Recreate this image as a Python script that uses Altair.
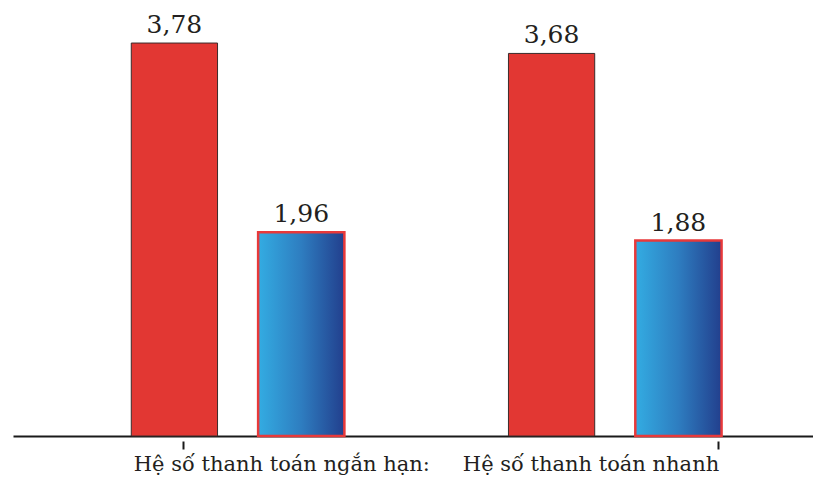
import altair as alt
import pandas as pd

# Chart data
categories = ["Hệ số thanh toán ngắn hạn:", "Hệ số thanh toán nhanh"]
series = ["S1", "S2"]
values_s1 = [3.78, 3.68]
values_s2 = [1.96, 1.88]

rows = []
for cat, v1, v2 in zip(categories, values_s1, values_s2):
    rows.append({"category": cat, "series": series[0], "value": v1})
    rows.append({"category": cat, "series": series[1], "value": v2})
df = pd.DataFrame(rows)

FONT = "DejaVu Serif"
TEXT_COLOR = "#231F20"

x_enc = alt.X(
    "category:N",
    sort=categories,
    scale=alt.Scale(paddingInner=0.435, paddingOuter=0.278, align=0.564),
    axis=alt.Axis(
        title=None,
        domain=True,
        domainColor="#1a1a1a",
        domainWidth=2,
        ticks=False,
        labelFont=FONT,
        labelFontSize=21,
        labelColor=TEXT_COLOR,
        labelBaseline="alphabetic",
        labelPadding=34,
        labelAngle=0,
        labelLimit=400,
        labelOffset={
            "condition": {"test": f"datum.value === '{categories[0]}'", "value": 44},
            "value": -24,
        },
    ),
)
xoff_enc = alt.XOffset(
    "series:N",
    sort=series,
    scale=alt.Scale(domain=series, paddingInner=0.32, paddingOuter=0),
)
y_enc = alt.Y(
    "value:Q",
    scale=alt.Scale(domain=[0, 4.194], nice=False, zero=True),
    axis=None,
)

base = alt.Chart(df).encode(x=x_enc, xOffset=xoff_enc, y=y_enc)

red_bars = base.transform_filter(alt.datum.series == series[0]).mark_bar(
    fill="#E23733", stroke="#3a2b2b", strokeWidth=1
)

blue_gradient = alt.Gradient(
    gradient="linear",
    stops=[
        alt.GradientStop(color="#33ACE2", offset=0),
        alt.GradientStop(color="#2E7DC0", offset=0.5),
        alt.GradientStop(color="#223F8D", offset=1),
    ],
    x1=0, x2=1, y1=0, y2=0,
)
blue_bars = base.transform_filter(alt.datum.series == series[1]).mark_bar(
    fill=blue_gradient, stroke="#E8393A", strokeWidth=2.5
)

value_labels = base.transform_calculate(
    label="replace(format(datum.value, '.2f'), '.', ',')"
).mark_text(
    font=FONT, fontSize=25, color=TEXT_COLOR, baseline="alphabetic", dy=-10
).encode(text="label:N")

bars_layer = alt.layer(red_bars, blue_bars, value_labels)

# Small category ticks drawn below the baseline
ticks_layer = alt.Chart(pd.DataFrame({"category": categories})).mark_point(
    opacity=0
).encode(
    x=alt.X(
        "category:N",
        sort=categories,
        scale=alt.Scale(type="point", padding=0.2477, align=0.6415),
        axis=alt.Axis(
            orient="bottom",
            title=None,
            domain=False,
            labels=False,
            ticks=True,
            tickSize=8,
            tickWidth=2,
            tickColor="#1a1a1a",
            offset=5,
            grid=False,
        ),
    ),
    y=alt.datum(0),
)

chart = (
    alt.layer(bars_layer, ticks_layer)
    .resolve_scale(x="independent")
    .resolve_axis(x="independent")
    .properties(
        width=800,
        height=436,
        padding={"left": 13, "top": 0, "right": 0, "bottom": 43},
        autosize=alt.AutoSizeParams(type="none"),
        background="white",
    )
    .configure_view(stroke=None)
)

chart.save("out.html", embed_options={"renderer": "svg", "actions": False})
